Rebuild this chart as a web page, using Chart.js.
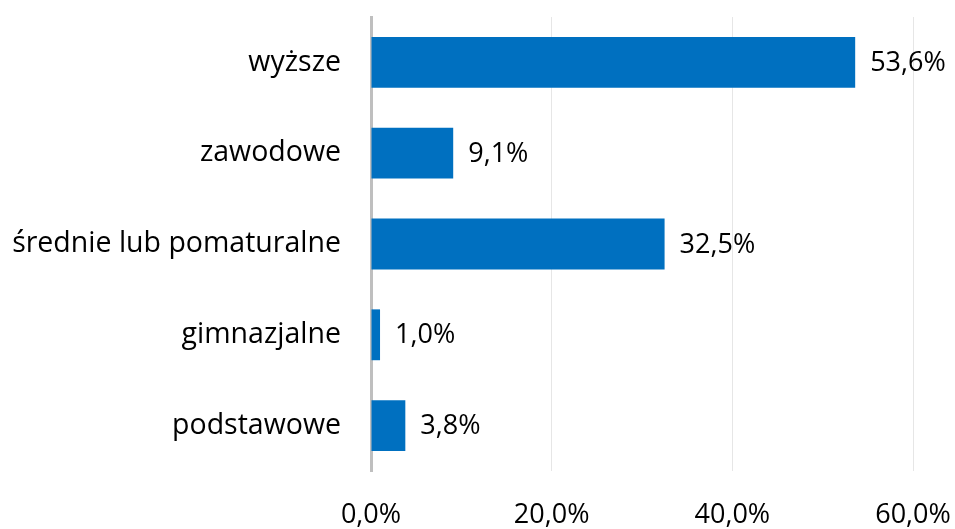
<!DOCTYPE html>
<html>
<head>
<meta charset="utf-8">
<script src="https://cdn.jsdelivr.net/npm/chart.js@4"></script>
<style>
  html, body { margin: 0; padding: 0; background: #fff; }
  #wrap { width: 955px; height: 529px; }
</style>
</head>
<body>
<div id="wrap"><canvas id="myChart" width="955" height="529"></canvas></div>
<script>
const categories = ['wyższe', 'zawodowe', 'średnie lub pomaturalne', 'gimnazjalne', 'podstawowe'];
const shares = [53.6, 9.1, 32.5, 1.0, 3.8];
const xTicks = [0, 20, 40, 60];

const FONT = 'Segoe UI, "Open Sans", "Noto Sans", sans-serif';

function pct(v) {
    return v.toFixed(1).replace('.', ',') + '%';
}

const valueLabels = {
    id: 'valueLabels',
    afterDatasetsDraw(chart) {
        const ctx = chart.ctx;
        const meta = chart.getDatasetMeta(0);
        ctx.save();
        ctx.font = '27px ' + FONT;
        ctx.fillStyle = '#000';
        ctx.textAlign = 'left';
        ctx.textBaseline = 'middle';
        meta.data.forEach(function(bar, i) {
            ctx.fillText(pct(shares[i]), bar.x + 15, bar.y + 1);
        });
        ctx.restore();
    }
};

function noPad(scale) {
    scale.paddingLeft = 0;
    scale.paddingRight = 0;
    scale.paddingTop = 0;
    scale.paddingBottom = 0;
}

new Chart(document.getElementById('myChart').getContext('2d'), {
    type: 'bar',
    data: {
        labels: categories,
        datasets: [{
            data: shares,
            backgroundColor: '#0070C0',
            borderWidth: 0,
            barPercentage: 0.56,
            categoryPercentage: 1
        }]
    },
    options: {
        indexAxis: 'y',
        responsive: false,
        animation: false,
        devicePixelRatio: 1,
        layout: { padding: { top: 17, right: 42, left: 0, bottom: 0 } },
        plugins: {
            legend: { display: false },
            tooltip: { enabled: false }
        },
        scales: {
            x: {
                min: 0,
                max: 60,
                afterBuildTicks(scale) {
                    scale.ticks = xTicks.map(v => ({ value: v }));
                },
                afterFit(scale) { scale.height = 58; noPad(scale); },
                grid: { color: '#e6e6e6', lineWidth: 1, drawTicks: false },
                border: { display: false },
                ticks: {
                    padding: 28,
                    color: '#000',
                    font: { family: FONT, size: 27 },
                    callback: v => pct(v)
                }
            },
            y: {
                afterFit(scale) { scale.width = 371; noPad(scale); },
                grid: { display: false, drawTicks: false },
                border: { display: true, color: '#bfbfbf', width: 3 },
                ticks: {
                    padding: 30,
                    color: '#000',
                    font: { family: FONT, size: 28.5 }
                }
            }
        }
    },
    plugins: [valueLabels]
});
</script>
</body>
</html>
